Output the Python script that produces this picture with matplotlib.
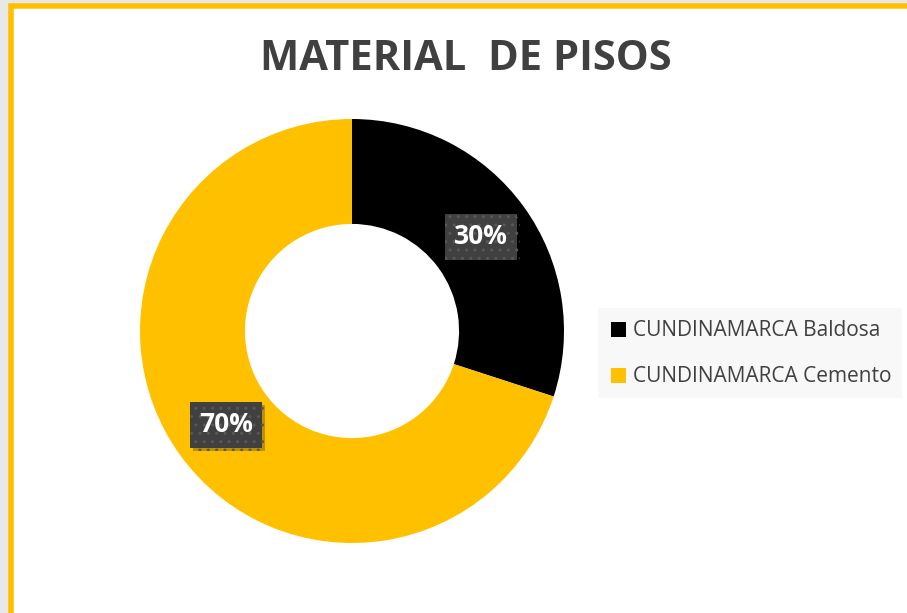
import matplotlib.pyplot as plt
import matplotlib.patheffects as pe
from matplotlib.patches import Rectangle

plt.rcParams['font.family'] = ['Open Sans', 'DejaVu Sans']

categorias = ['CUNDINAMARCA Baldosa', 'CUNDINAMARCA Cemento']
porcentajes = [30, 70]
colores = ['#000000', '#FFC000']

fig = plt.figure(figsize=(9.07, 6.13), dpi=100)
fig.patch.set_facecolor('#E8E8E8')

# fondo blanco con el borde amarillo (recortado a la derecha y abajo)
fig.patches.append(Rectangle((10.5 / 907, -0.1), 1.2, (613 - 6.5) / 613 + 0.1,
                             transform=fig.transFigure, facecolor='white',
                             edgecolor='#FFC000', linewidth=4, zorder=-5))

fig.text(466 / 907, 1 - 60 / 613, 'MATERIAL  DE PISOS', ha='center', va='center',
         fontsize=30, fontweight='bold', color='#404040')

# dona centrada en (352, 331) px, radio exterior 212 px
r = 212
ax = fig.add_axes([(352 - r) / 907, 1 - (331 + r) / 613, 2 * r / 907, 2 * r / 613])
ax.set_zorder(2)
wedges, _ = ax.pie(porcentajes, colors=colores, startangle=90, counterclock=False,
                   radius=1.0, wedgeprops=dict(width=0.495, edgecolor='none'))
ax.set_xlim(-1, 1)
ax.set_ylim(-1, 1)
ax.set_aspect('equal')
ax.axis('off')

# etiquetas de porcentaje
posiciones = [(481, 237), (226, 425)]
for (px, py), p in zip(posiciones, porcentajes):
    t = fig.text(px / 907, 1 - py / 613, f'{p}%', ha='center', va='center',
                 fontsize=19, fontweight='bold', color='white', zorder=5,
                 bbox=dict(boxstyle='square,pad=0.35', facecolor='#404040',
                           edgecolor='#585858', linewidth=0, hatch='..'))
    t.get_bbox_patch().set_path_effects([
        pe.SimplePatchShadow(offset=(2, -2), shadow_rgbFace='black', alpha=0.25),
        pe.Normal()])

# leyenda
fig.patches.append(Rectangle((598 / 907, 1 - 398 / 613), 304 / 907, 90 / 613,
                             transform=fig.transFigure, facecolor='#F8F8F8',
                             edgecolor='none', zorder=1))
leg = fig.legend(wedges, categorias, loc='center left',
                 bbox_to_anchor=(592 / 907, 1 - 354 / 613), frameon=False,
                 fontsize=15, handlelength=0.75, handleheight=0.75,
                 handletextpad=0.3, labelspacing=1.2, labelcolor='#404040')
leg.set_zorder(3)

fig.savefig('out.png', dpi=100, facecolor=fig.get_facecolor())
